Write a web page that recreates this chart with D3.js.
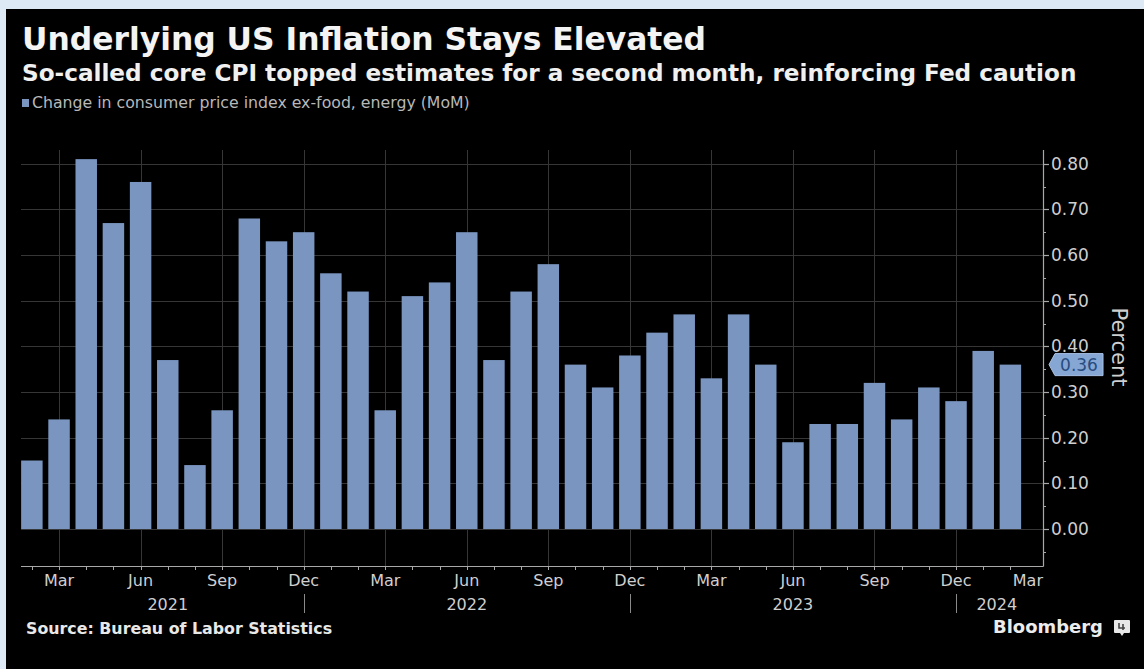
<!DOCTYPE html>
<html>
<head>
<meta charset="utf-8">
<script src="https://cdn.jsdelivr.net/npm/d3@7"></script>
<style>
  html, body { margin: 0; padding: 0; background: #dde9f5; }
  svg { display: block; }
</style>
</head>
<body>
<svg id="chart" width="1144" height="669"></svg>
<script>
// ---------------- data ----------------
const months = [
  "2021-02","2021-03","2021-04","2021-05","2021-06","2021-07","2021-08","2021-09","2021-10","2021-11","2021-12",
  "2022-01","2022-02","2022-03","2022-04","2022-05","2022-06","2022-07","2022-08","2022-09","2022-10","2022-11","2022-12",
  "2023-01","2023-02","2023-03","2023-04","2023-05","2023-06","2023-07","2023-08","2023-09","2023-10","2023-11","2023-12",
  "2024-01","2024-02"
];
const coreCpiMoM = [
  0.15, 0.24, 0.81, 0.67, 0.76, 0.37, 0.14, 0.26, 0.68, 0.63, 0.65,
  0.56, 0.52, 0.26, 0.51, 0.54, 0.65, 0.37, 0.52, 0.58, 0.36, 0.31, 0.38,
  0.43, 0.47, 0.33, 0.47, 0.36, 0.19, 0.23, 0.23, 0.32, 0.24, 0.31, 0.28,
  0.39, 0.36
];
const xTickMonths = ["2021-03","2021-06","2021-09","2021-12","2022-03","2022-06","2022-09","2022-12",
                     "2023-03","2023-06","2023-09","2023-12","2024-03"];
const xTickLabels = ["Mar","Jun","Sep","Dec","Mar","Jun","Sep","Dec","Mar","Jun","Sep","Dec","Mar"];
const yearLabels = ["2021","2022","2023","2024"];
const yearAnchorMonths = [["2021-07","2021-07"],["2022-06","2022-06"],["2023-06","2023-06"],["2024-01","2024-02"]];
const yearSeparatorMonths = ["2021-12","2022-12","2023-12"];
const yTicks = [0,0.1,0.2,0.3,0.4,0.5,0.6,0.7,0.8];
const yMinorTicks = [-0.05,0.05,0.15,0.25,0.35,0.45,0.55,0.65,0.75,0.85];
const lastValueLabel = "0.36";

const titleText = "Underlying US Inflation Stays Elevated";
const subtitleText = "So-called core CPI topped estimates for a second month, reinforcing Fed caution";
const legendText = "Change in consumer price index ex-food, energy (MoM)";
const sourceText = "Source: Bureau of Labor Statistics";
const yAxisTitle = "Percent";

// ---------------- layout ----------------
const W = 1144, H = 669;
const plot = { left: 21, right: 1043, top: 150, bottom: 566 };
const barColor = "#7a96c0";
const textColor = "#cfcfcf";
const gridColor = "#363636";
const FONT = "'DejaVu Sans', Verdana, sans-serif";

const svg = d3.select("#chart");

// background frame
svg.append("rect").attr("x",0).attr("y",0).attr("width",W).attr("height",H).attr("fill","#dde9f5");
svg.append("rect").attr("x",6).attr("y",9).attr("width",W-6).attr("height",H-9).attr("fill","#000");

const monthIndex = m => {
  const [yy, mo] = m.split("-").map(Number);
  return (yy - 2021) * 12 + (mo - 2);
};

const x = d3.scaleLinear().domain([-0.4, 37.2]).range([plot.left, plot.right]);
const y = d3.scaleLinear().domain([-0.081, 0.83]).range([plot.bottom, plot.top]);
const step = x(1) - x(0);
const barW = step * 0.79;

function fitWidth(sel, target) {
  const w = sel.node().getComputedTextLength();
  const fs = parseFloat(sel.attr("font-size"));
  sel.attr("font-size", (fs * target / w).toFixed(2));
}

// ---------------- titles ----------------
const title = svg.append("text").attr("x",22).attr("y",50)
  .attr("font-family",FONT).attr("font-weight","bold").attr("font-size",29)
  .attr("fill","#f4f4f4").text(titleText);
fitWidth(title, 684);

const subtitle = svg.append("text").attr("x",22).attr("y",81)
  .attr("font-family",FONT).attr("font-weight","bold").attr("font-size",19)
  .attr("fill","#f0f0f0").text(subtitleText);
fitWidth(subtitle, 1055);

svg.append("rect").attr("x",22).attr("y",99).attr("width",7).attr("height",8).attr("fill",barColor);
const legend = svg.append("text").attr("x",32).attr("y",108)
  .attr("font-family",FONT).attr("font-size",12)
  .attr("fill","#b8b8b8").text(legendText);
fitWidth(legend, 438);

// ---------------- grid ----------------
const g = svg.append("g");
g.selectAll("line.hgrid").data(yTicks).join("line")
  .attr("x1",plot.left).attr("x2",plot.right)
  .attr("y1",d=>Math.round(y(d))+0.5).attr("y2",d=>Math.round(y(d))+0.5)
  .attr("stroke",gridColor).attr("stroke-width",1);

g.selectAll("line.vgrid").data(xTickMonths.filter(m => x(monthIndex(m)) < plot.right - 8)).join("line")
  .attr("x1",d=>Math.round(x(monthIndex(d)))+0.5).attr("x2",d=>Math.round(x(monthIndex(d)))+0.5)
  .attr("y1",plot.top).attr("y2",plot.bottom)
  .attr("stroke",gridColor).attr("stroke-width",1);

// ---------------- bars ----------------
g.selectAll("rect.bar").data(months.map((m,i)=>({m, v: coreCpiMoM[i]}))).join("rect")
  .attr("x", d => x(monthIndex(d.m)) - barW/2)
  .attr("width", barW)
  .attr("y", d => y(d.v))
  .attr("height", d => y(0) - y(d.v))
  .attr("fill", barColor);

// ---------------- x axis ----------------
const axisColor = "#a8a8a8";
svg.append("line").attr("x1",plot.left).attr("x2",plot.right+0.5)
  .attr("y1",plot.bottom+0.5).attr("y2",plot.bottom+0.5).attr("stroke",axisColor).attr("stroke-width",1.2);

// monthly tick marks
const allMonthIdx = d3.range(0, 37);
svg.selectAll("line.mtick").data(allMonthIdx).join("line")
  .attr("x1",d=>Math.round(x(d))+0.5).attr("x2",d=>Math.round(x(d))+0.5)
  .attr("y1",plot.bottom).attr("y2",plot.bottom+4)
  .attr("stroke",axisColor).attr("stroke-width",1);

svg.selectAll("text.xlab").data(xTickMonths).join("text")
  .attr("font-family",FONT).attr("font-size",16).attr("fill",textColor)
  .attr("y",586)
  .text((d,i)=>xTickLabels[i])
  .each(function(d){
    const t = d3.select(this);
    const cx = x(monthIndex(d));
    const w = this.getComputedTextLength();
    if (cx + w/2 > plot.right) {
      t.attr("x", plot.right).attr("text-anchor","end");
    } else {
      t.attr("x", cx).attr("text-anchor","middle");
    }
  });

svg.selectAll("text.ylab").data(yearLabels).join("text")
  .attr("font-family",FONT).attr("font-size",16).attr("fill",textColor)
  .attr("text-anchor","middle").attr("y",610)
  .attr("x",(d,i)=>d3.mean(yearAnchorMonths[i], m => x(monthIndex(m))))
  .text(d=>d);

svg.selectAll("line.ysep").data(yearSeparatorMonths).join("line")
  .attr("x1",d=>Math.round(x(monthIndex(d)))+0.5).attr("x2",d=>Math.round(x(monthIndex(d)))+0.5)
  .attr("y1",594).attr("y2",613)
  .attr("stroke","#8a8a8a").attr("stroke-width",1);

// ---------------- y axis (right) ----------------
svg.append("line").attr("x1",plot.right+0.5).attr("x2",plot.right+0.5)
  .attr("y1",plot.top).attr("y2",plot.bottom+0.5).attr("stroke",axisColor).attr("stroke-width",1.2);

svg.selectAll("line.ytick").data(yTicks).join("line")
  .attr("x1",plot.right).attr("x2",plot.right+6)
  .attr("y1",d=>Math.round(y(d))+0.5).attr("y2",d=>Math.round(y(d))+0.5)
  .attr("stroke",axisColor).attr("stroke-width",1.2);
svg.selectAll("line.yminor").data(yMinorTicks.filter(d => y(d) >= plot.top && y(d) <= plot.bottom)).join("line")
  .attr("x1",plot.right).attr("x2",plot.right+3)
  .attr("y1",d=>Math.round(y(d))+0.5).attr("y2",d=>Math.round(y(d))+0.5)
  .attr("stroke",axisColor).attr("stroke-width",1);

svg.selectAll("text.ytl").data(yTicks).join("text")
  .attr("font-family",FONT).attr("font-size",17).attr("fill",textColor)
  .attr("x",1051).attr("y",d=>y(d)).attr("dy","0.36em")
  .text(d=>d3.format(".2f")(d));

// last value marker
const lastV = coreCpiMoM[coreCpiMoM.length-1];
const ly = y(lastV);
const tagLeft = 1049, tagRight = 1103, tagH = 22;
svg.append("path")
  .attr("d", `M${tagLeft},${ly} L${tagLeft+6},${ly-tagH/2} L${tagRight},${ly-tagH/2} L${tagRight},${ly+tagH/2} L${tagLeft+6},${ly+tagH/2} Z`)
  .attr("fill","#86a6d3").attr("stroke","#a9c2e6").attr("stroke-width",1);
svg.append("text").attr("font-family",FONT).attr("font-size",17).attr("fill","#284c80")
  .attr("x",(tagLeft+6+tagRight)/2).attr("y",ly).attr("dy","0.36em").attr("text-anchor","middle")
  .text(lastValueLabel);

// y axis title
svg.append("text").attr("font-family",FONT).attr("font-size",21).attr("fill",textColor)
  .attr("text-anchor","middle")
  .attr("transform","translate(1112,347) rotate(90)")
  .text(yAxisTitle);

// ---------------- footer ----------------
const src = svg.append("text").attr("x",26).attr("y",634)
  .attr("font-family",FONT).attr("font-weight","bold").attr("font-size",15)
  .attr("fill","#e8e8e8").text(sourceText);
fitWidth(src, 306);

const bb = svg.append("text").attr("x",993).attr("y",633)
  .attr("font-family",FONT).attr("font-weight","bold").attr("font-size",18)
  .attr("fill","#ececec").text("Bloomberg");
fitWidth(bb, 110);

// Bloomberg icon
const ic = svg.append("g").attr("transform","translate(1114,620)");
ic.append("path").attr("d","M1,0 H15 Q16,0 16,1 V12 Q16,13 15,13 H10 L8,16 L6,13 H1 Q0,13 0,12 V1 Q0,0 1,0 Z").attr("fill","#e8e8e8");
ic.append("path").attr("d","M5,3 V8 H11 M9,4 V10").attr("stroke","#444").attr("stroke-width",1.6).attr("fill","none");
</script>
</body>
</html>
